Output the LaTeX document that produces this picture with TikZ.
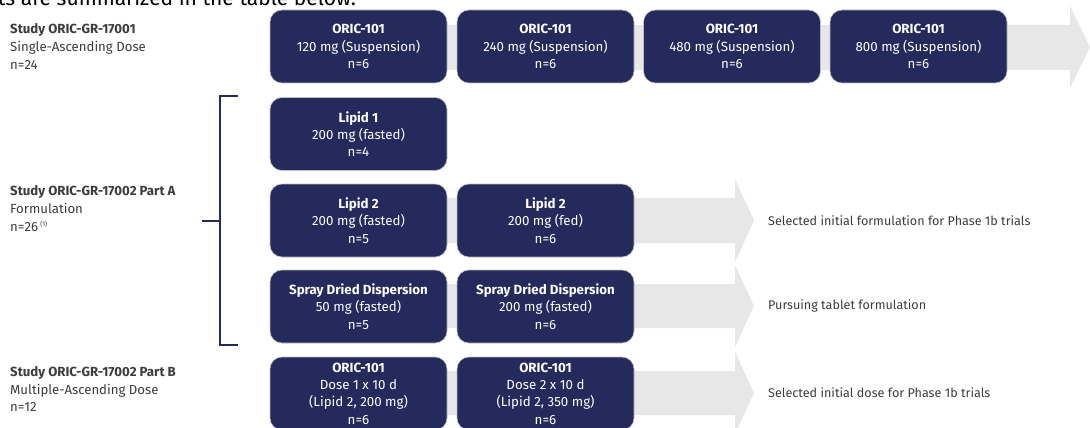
\documentclass[tikz,border=0pt]{standalone}
\usepackage{fontspec}
\setmainfont{Fira Sans}
\definecolor{navy}{RGB}{36,42,92}
\definecolor{arrowgray}{RGB}{231,231,231}
\definecolor{labelgray}{RGB}{60,60,60}
\begin{document}
\begin{tikzpicture}[x=1pt,y=-1pt,
  dosebox/.style={rounded corners=12pt, fill=navy, draw=black!25, line width=0.6pt,
    minimum width=177pt, minimum height=73pt, inner sep=0pt, text=white, align=center,
    font=\fontsize{13.3}{17.3}\selectfont},
  studylabel/.style={anchor=west, align=left, text=labelgray, inner sep=0pt,
    font=\fontsize{13.2}{17.8}\selectfont},
  outcome/.style={anchor=west, text=labelgray, inner sep=0pt, font=\fontsize{12.6}{15}\selectfont},
  bigarrow/.style={fill=arrowgray, draw=none},
  bracketline/.style={draw=navy, line width=2pt}]
\useasboundingbox (0,0) rectangle (1090,428);
\begin{scope}
\clip (0,0) rectangle (1090,428);
% cut-off text line at the top
\node[anchor=base east, inner sep=0pt, font=\fontsize{21}{24}\selectfont, text=black] (toptext) at (356,6) {ts are summarized in the table below.};

% coordinates of box centres
\coordinate (c11) at (358.5,46.5);
\coordinate (c12) at (545.5,46.5);
\coordinate (c13) at (732,46.5);
\coordinate (c14) at (918.5,46.5);
\coordinate (c21) at (358.5,134);
\coordinate (c31) at (358.5,220.5);
\coordinate (c32) at (545.5,220.5);
\coordinate (c41) at (358.5,306.5);
\coordinate (c42) at (545.5,306.5);
\coordinate (c51) at (358.5,393.5);
\coordinate (c52) at (545.5,393.5);

% gray arrows behind the boxes
\fill[bigarrow] (270,25) -- (1070,25) -- (1070,6) -- (1090,47) -- (1070,88) -- (1070,70) -- (270,70) -- cycle;
\fill[bigarrow] (270,198) -- (735,198) -- (735,179) -- (754,220.5) -- (735,262) -- (735,243) -- (270,243) -- cycle;
\fill[bigarrow] (270,284) -- (735,284) -- (735,265) -- (754,306) -- (735,347) -- (735,328) -- (270,328) -- cycle;
\fill[bigarrow] (270,371) -- (735,371) -- (735,352) -- (754,393) -- (735,434) -- (735,415) -- (270,415) -- cycle;

% boxes
\node[dosebox] (b11) at (c11) {\textbf{ORIC-101}\\120 mg (Suspension)\\n=6};
\node[dosebox] (b12) at (c12) {\textbf{ORIC-101}\\240 mg (Suspension)\\n=6};
\node[dosebox] (b13) at (c13) {\textbf{ORIC-101}\\480 mg (Suspension)\\n=6};
\node[dosebox] (b14) at (c14) {\textbf{ORIC-101}\\800 mg (Suspension)\\n=6};
\node[dosebox] (b21) at (c21) {\textbf{Lipid 1}\\200 mg (fasted)\\n=4};
\node[dosebox] (b31) at (c31) {\textbf{Lipid 2}\\200 mg (fasted)\\n=5};
\node[dosebox] (b32) at (c32) {\textbf{Lipid 2}\\200 mg (fed)\\n=6};
\node[dosebox] (b41) at (c41) {\textbf{Spray Dried Dispersion}\\50 mg (fasted)\\n=5};
\node[dosebox] (b42) at (c42) {\textbf{Spray Dried Dispersion}\\200 mg (fasted)\\n=6};
\node[dosebox] (b51) at (c51) {\textbf{ORIC-101}\\Dose 1 x 10 d\\(Lipid 2, 200 mg)\\n=6};
\node[dosebox] (b52) at (c52) {\textbf{ORIC-101}\\Dose 2 x 10 d\\(Lipid 2, 350 mg)\\n=6};
\end{scope}

% study labels
\node[studylabel] (s1) at (10,46.5) {\textbf{Study ORIC-GR-17001}\\Single-Ascending Dose\\n=24};
\node[studylabel] (s2) at (10,208.5) {\textbf{Study ORIC-GR-17002 Part A}\\Formulation\\n=26\,\raisebox{0.7ex}{\fontsize{6.5}{6.5}\selectfont(1)}};
\node[studylabel] (s3) at (10,389) {\textbf{Study ORIC-GR-17002 Part B}\\Multiple-Ascending Dose\\n=12};

% bracket
\coordinate (brtop) at (238,96);
\coordinate (brbot) at (238,345);
\coordinate (brmid) at (202,220.5);
\draw[bracketline] (brtop) -- (220,96) -- (220,345) -- (brbot);
\draw[bracketline] (brmid) -- (220,220.5);

% outcomes
\node[outcome] (o1) at (768,220.5) {Selected initial formulation for Phase 1b trials};
\node[outcome] (o2) at (768,306) {Pursuing tablet formulation};
\node[outcome] (o3) at (768,393) {Selected initial dose for Phase 1b trials};
\end{tikzpicture}
\end{document}
